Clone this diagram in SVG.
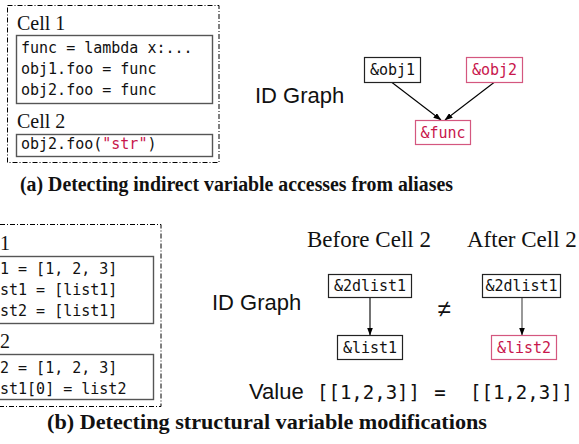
<svg xmlns="http://www.w3.org/2000/svg" width="579" height="444" viewBox="0 0 579 444">
<style>
.frame{fill:none;stroke:#000;stroke-width:1;stroke-dasharray:5 2 1 2}
.cbox{fill:none;stroke:#555;stroke-width:1.4}
.nbox{fill:#fff;stroke:#222;stroke-width:1.2}
.pbox{fill:#fff;stroke:#d4577f;stroke-width:1.2}
.serif{font-family:"Liberation Serif","Times New Roman",serif;font-size:20px;fill:#111}
.head{font-family:"Liberation Serif","Times New Roman",serif;font-size:23px;fill:#111}
.cap{font-family:"Liberation Serif","Times New Roman",serif;font-size:20px;font-weight:bold;fill:#111}
.sans{font-family:"Liberation Sans",Arial,sans-serif;font-size:22px;fill:#111}
.mono{font-family:"DejaVu Sans Mono","Liberation Mono",monospace;font-size:15px;fill:#111}
.nt{font-family:"DejaVu Sans Mono","Liberation Mono",monospace;font-size:15px;fill:#111;text-anchor:middle}
.pt{fill:#c8164c}
.big{font-family:"DejaVu Sans Mono","Liberation Mono",monospace;font-size:19px;fill:#111}
.edge{fill:none;stroke:#000;stroke-width:1.1}
</style>
<defs>
<marker id="ah" markerWidth="8" markerHeight="6" refX="7.5" refY="3" orient="auto" markerUnits="userSpaceOnUse">
<path d="M0,0 L8,3 L0,6 z" fill="#000"/>
</marker>
</defs>

<!-- Panel (a) code -->
<g id="code-a">
<rect class="frame" x="7.5" y="5.5" width="211.5" height="157"/>
<text class="serif" x="17" y="30">Cell 1</text>
<rect class="cbox" x="16.5" y="35.5" width="196" height="68"/>
<text class="mono" x="21" y="53">func = lambda x:...</text>
<text class="mono" x="21" y="74">obj1.foo = func</text>
<text class="mono" x="21" y="95">obj2.foo = func</text>
<text class="serif" x="17" y="128">Cell 2</text>
<rect class="cbox" x="16.5" y="134.5" width="196" height="22"/>
<text class="mono" x="21" y="149">obj2.foo(<tspan class="pt">"str"</tspan>)</text>
</g>
<text class="cap" x="20" y="191" textLength="433" lengthAdjust="spacingAndGlyphs">(a) Detecting indirect variable accesses from aliases</text>
<text class="sans" x="255" y="103">ID Graph</text>

<g id="connectors">
<line class="edge" x1="392" y1="82.5" x2="441" y2="120" marker-end="url(#ah)"/>
<line class="edge" x1="494" y1="82.5" x2="445" y2="120" marker-end="url(#ah)"/>
<line class="edge" x1="370" y1="297.5" x2="370" y2="335" marker-end="url(#ah)"/>
<line class="edge" x1="522" y1="297.5" x2="522" y2="335" marker-end="url(#ah)" style="stroke:#444"/>
</g>

<g id="obj1"><rect class="nbox" x="364.5" y="57.5" width="56" height="25"/><text class="nt" x="392.5" y="75">&amp;obj1</text></g>
<g id="obj2"><rect class="pbox" x="466.5" y="57.5" width="56" height="25"/><text class="nt pt" x="494.5" y="75">&amp;obj2</text></g>
<g id="func"><rect class="pbox" x="415.5" y="120.5" width="55" height="24"/><text class="nt pt" x="443" y="138">&amp;func</text></g>

<!-- Panel (b) code -->
<g id="code-b">
<rect class="frame" x="-10" y="224.5" width="171" height="182"/>
<text class="serif" x="0" y="250">1</text>
<rect class="cbox" x="-10" y="256.5" width="163.5" height="67"/>
<text class="mono" x="0" y="274">1 = [1, 2, 3]</text>
<text class="mono" x="0" y="295">st1 = [list1]</text>
<text class="mono" x="0" y="316">st2 = [list1]</text>
<text class="serif" x="0" y="348">2</text>
<rect class="cbox" x="-10" y="354.5" width="163.5" height="45"/>
<text class="mono" x="0" y="373">2 = [1, 2, 3]</text>
<text class="mono" x="0" y="394">st1[0] = list2</text>
</g>
<text class="cap" x="47" y="429" textLength="440" lengthAdjust="spacingAndGlyphs">(b) Detecting structural variable modifications</text>

<text class="head" x="307" y="247">Before Cell 2</text>
<text class="head" x="467" y="247">After Cell 2</text>
<text class="sans" x="212" y="310">ID Graph</text>

<g id="before-2dlist1"><rect class="nbox" x="328.5" y="274.5" width="83" height="23"/><text class="nt" x="370" y="291">&amp;2dlist1</text></g>
<g id="before-list1"><rect class="nbox" x="337.5" y="335.5" width="65" height="24"/><text class="nt" x="370" y="353">&amp;list1</text></g>
<text class="sans" x="444" y="317" text-anchor="middle" style="font-size:24px">≠</text>
<g id="after-2dlist1"><rect class="nbox" x="482.5" y="274.5" width="78" height="23"/><text class="nt" x="521.5" y="291">&amp;2dlist1</text></g>
<g id="after-list2"><rect class="pbox" x="491.5" y="335.5" width="65" height="24"/><text class="nt pt" x="524" y="353">&amp;list2</text></g>

<text class="sans" x="249" y="399">Value</text>
<text class="big" x="317" y="399">[[1,2,3]]</text>
<text class="big" x="440" y="399" text-anchor="middle">=</text>
<text class="big" x="470" y="399">[[1,2,3]]</text>
</svg>
